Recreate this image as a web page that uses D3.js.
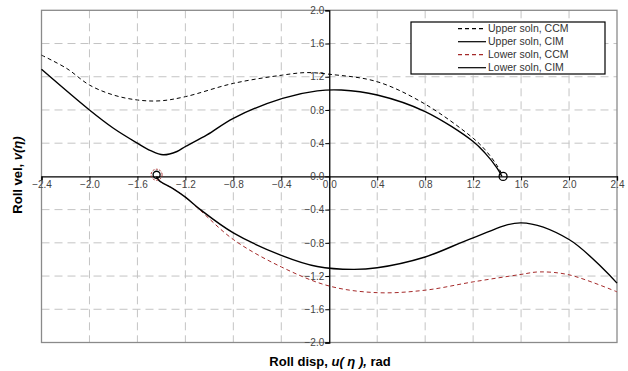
<!DOCTYPE html>
<html>
<head>
<meta charset="utf-8">
<script src="https://cdn.jsdelivr.net/npm/d3@7"></script>
<style>
  body { margin: 0; background: #fff; }
  text { font-family: Arial, "Liberation Sans", sans-serif; }
</style>
</head>
<body>
<svg id="chart" width="628" height="371"></svg>
<script>

// data
let upper_ccm_u = [-2.4, -2.19, -2.0, -1.8, -1.6, -1.41, -1.2, -0.8, -0.39, -0.19, 0.0, 0.4, 0.8, 1.2, 1.3, 1.4, 1.45]
let upper_ccm_v = [1.46, 1.30, 1.10, 0.98, 0.92, 0.91, 0.96, 1.12, 1.22, 1.25, 1.23, 1.14, 0.87, 0.46, 0.32, 0.13, 0.0]

let upper_cim_u = [-2.4, -2.0, -1.8, -1.6, -1.49, -1.386, -1.27, -1.2, -1.02, -0.8, -0.39, -0.1, 0.1, 0.4, 0.8, 1.2, 1.3, 1.4, 1.44]
let upper_cim_v = [1.29, 0.80, 0.58, 0.40, 0.31, 0.26, 0.30, 0.36, 0.50, 0.70, 0.94, 1.03, 1.04, 0.98, 0.78, 0.42, 0.28, 0.10, 0.0]

let lower_ccm_u = [-1.44, -1.42, -1.3, -1.2, -1.075, -0.8, -0.4, 0.0, 0.4, 0.8, 1.2, 1.6, 1.75, 2.0, 2.4]
let lower_ccm_v = [0.0, -0.05, -0.15, -0.25, -0.41, -0.76, -1.09, -1.32, -1.40, -1.37, -1.27, -1.18, -1.15, -1.185, -1.39]

let lower_cim_u = [-1.44, -1.42, -1.3, -1.2, -1.075, -0.8, -0.4, -0.1, 0.2, 0.4, 0.8, 1.2, 1.6, 2.0, 2.4]
let lower_cim_v = [0.0, -0.05, -0.15, -0.25, -0.40, -0.68, -0.95, -1.085, -1.12, -1.10, -0.97, -0.74, -0.56, -0.76, -1.285]

let x_ticks = [-2.4, -2.0, -1.6, -1.2, -0.8, -0.4, 0.0, 0.4, 0.8, 1.2, 1.6, 2.0, 2.4]
let y_ticks = [-2.0, -1.6, -1.2, -0.8, -0.4, 0.0, 0.4, 0.8, 1.2, 1.6, 2.0]

let legend_names = ["Upper soln, CCM", "Upper soln, CIM", "Lower soln, CCM", "Lower soln, CIM"]

let end_points_u = [-1.44, 1.45]
let end_points_v = [0.02, 0.0]


let svg = d3.select('#chart')

let x = d3.scaleLinear().domain([-2.4, 2.4]).range([41.5, 617])
let y = d3.scaleLinear().domain([-2.0, 2.0]).range([342.5, 10.3])

// grid
svg.append('g').selectAll('line.gx')
.data(x_ticks.filter(d => d != 0 && Math.abs(d) != 2.4))
.join('line')
.attr('x1', d => x(d)).attr('x2', d => x(d))
.attr('y1', y(2.0)).attr('y2', y(-2.0))
.style('stroke', '#c4c4c4').style('stroke-dasharray', '8,5')

svg.append('g').selectAll('line.gy')
.data(y_ticks.filter(d => d != 0 && Math.abs(d) != 2.0))
.join('line')
.attr('x1', x(-2.4)).attr('x2', x(2.4))
.attr('y1', d => y(d)).attr('y2', d => y(d))
.style('stroke', '#c4c4c4').style('stroke-dasharray', '8,5')

// frame
svg.append('rect')
.attr('x', x(-2.4)).attr('y', y(2.0))
.attr('width', x(2.4) - x(-2.4)).attr('height', y(-2.0) - y(2.0))
.style('fill', 'none').style('stroke', '#8a8a8a').style('stroke-width', 1.3)

// axes through zero
let x_axis = svg.append('g')
.attr('transform', 'translate(0,' + y(0) + ')')
.call(d3.axisBottom(x).tickValues(x_ticks).tickSize(4).tickFormat(d3.format('.1f')))

let y_axis = svg.append('g')
.attr('transform', 'translate(' + x(0) + ',0)')
.call(d3.axisLeft(y).tickValues(y_ticks).tickSize(4).tickFormat(d3.format('.1f')))

;[x_axis, y_axis].forEach(a => {
  a.select('.domain').style('stroke', '#000').style('stroke-width', 1.3)
  a.selectAll('.tick line').style('stroke', '#000')
  a.selectAll('.tick text').style('font-size', '10px').style('fill', '#444')
    .style('font-family', 'Arial, "Liberation Sans", sans-serif')
})
x_axis.selectAll('.tick text').attr('dy', '0.9em').attr('y', 3)
y_axis.selectAll('.tick text').attr('x', -5)

// curves
let line = d3.line()
.x(d => x(d[0]))
.y(d => y(d[1]))
.curve(d3.curveCatmullRom.alpha(0.5))

let series = [
  {u: upper_ccm_u, v: upper_ccm_v, color: '#000', dash: '4,3', width: 1},
  {u: upper_cim_u, v: upper_cim_v, color: '#000', dash: null, width: 1.4},
  {u: lower_ccm_u, v: lower_ccm_v, color: '#a52a2a', dash: '4,3', width: 1},
  {u: lower_cim_u, v: lower_cim_v, color: '#000', dash: null, width: 1.4}
]

svg.append('g').selectAll('path')
.data(series)
.join('path')
.attr('d', s => line(s.u.map((d, i) => [d, s.v[i]])))
.style('fill', 'none')
.style('stroke', s => s.color)
.style('stroke-width', s => s.width)
.style('stroke-dasharray', s => s.dash)

// start / end markers
svg.append('circle')
.attr('cx', x(end_points_u[0])).attr('cy', y(end_points_v[0]))
.attr('r', 5.5)
.style('fill', 'none').style('stroke', '#a52a2a').style('stroke-dasharray', '2,1.5')

svg.append('g').selectAll('circle')
.data(end_points_u)
.join('circle')
.attr('cx', d => x(d))
.attr('cy', (d, i) => y(end_points_v[i]))
.attr('r', (d, i) => i == 0 ? 3.5 : 4)
.style('fill', 'none').style('stroke', '#000').style('stroke-width', 1.3)

// legend
let legend = svg.append('g').attr('transform', 'translate(411,22)')

legend.append('rect')
.attr('width', 194).attr('height', 52)
.style('fill', '#fff').style('stroke', '#000').style('stroke-width', 1.2)

let items = legend.selectAll('g')
.data(legend_names)
.join('g')
.attr('transform', (d, i) => 'translate(0,' + (6.7 + i * 13) + ')')

items.append('line')
.attr('x1', 47).attr('x2', 75)
.style('stroke', (d, i) => series[i].color)
.style('stroke-dasharray', (d, i) => series[i].dash)
.style('stroke-width', 1.2)

items.append('text')
.attr('x', 77).attr('dy', '0.35em')
.style('font-size', '10.5px').style('fill', '#333')
.text(d => d)

// axis titles
let x_title = svg.append('text')
.attr('x', 330).attr('y', 366)
.attr('text-anchor', 'middle')
.style('font-size', '13px').style('font-weight', 'bold')

x_title.append('tspan').text('Roll disp, ')
x_title.append('tspan').style('font-style', 'italic').text('u( ')
x_title.append('tspan').style('font-style', 'italic').text('η')
x_title.append('tspan').style('font-style', 'italic').text(' ),')
x_title.append('tspan').text('  rad')

let y_title = svg.append('text')
.attr('transform', 'translate(22,175) rotate(-90)')
.attr('text-anchor', 'middle')
.style('font-size', '13px').style('font-weight', 'bold')

y_title.append('tspan').text('Roll vel,  ')
y_title.append('tspan').style('font-style', 'italic').text('v(')
y_title.append('tspan').style('font-style', 'italic').text('η')
y_title.append('tspan').style('font-style', 'italic').text(')')

</script>
</body>
</html>
